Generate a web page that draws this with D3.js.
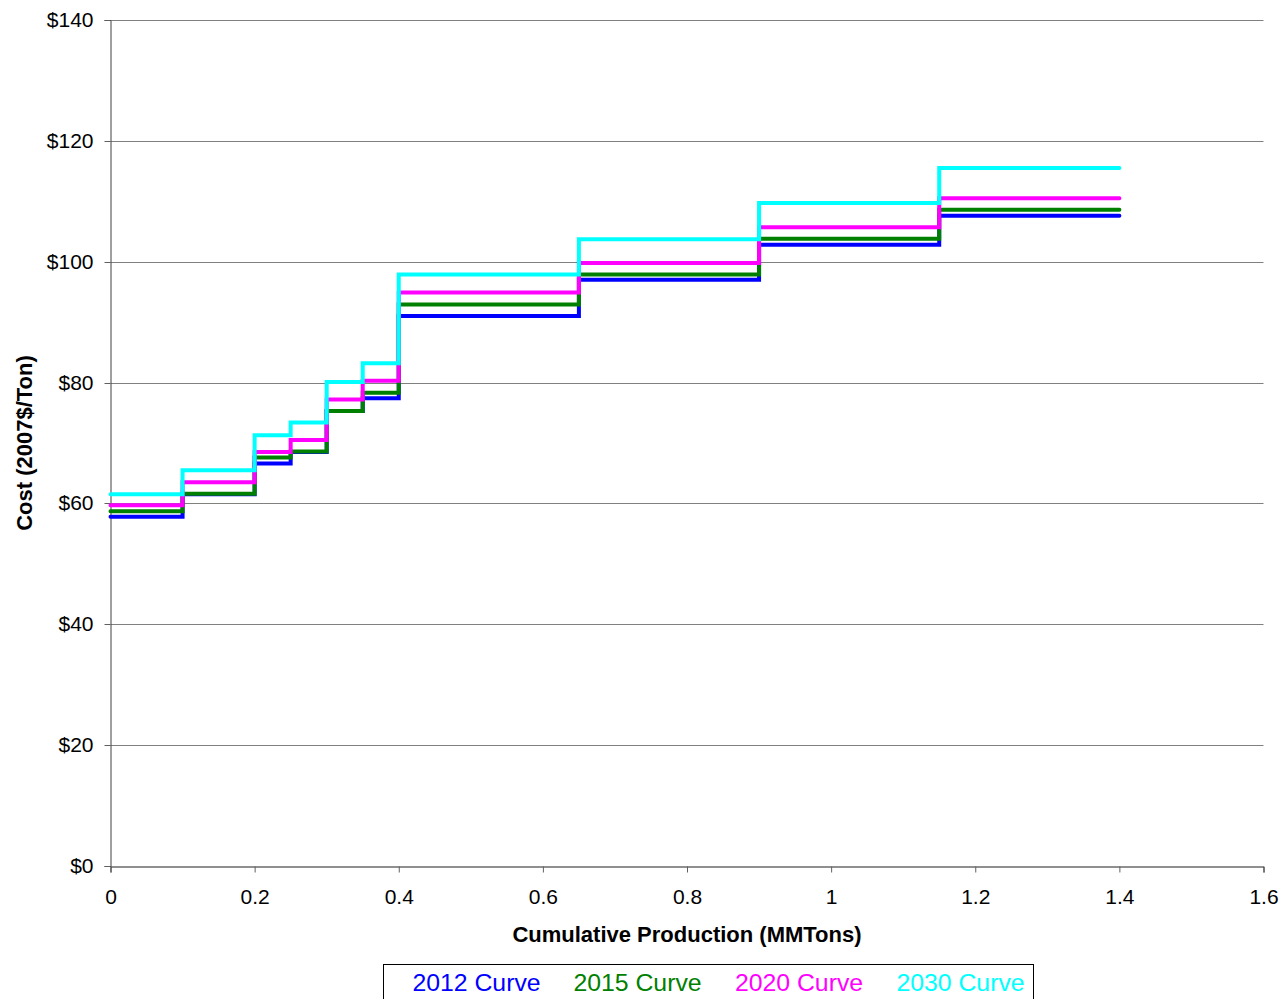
<!DOCTYPE html>
<html>
<head>
<meta charset="utf-8">
<script src="https://cdn.jsdelivr.net/npm/d3@7/dist/d3.min.js"></script>
<style>
  html, body { margin: 0; padding: 0; background: #fff; }
  svg { display: block; font-family: "Liberation Sans", Arial, sans-serif; }
</style>
</head>
<body>
<svg id="chart" width="1283" height="999"></svg>
<script>
// Step boundaries (cumulative production, MMTons)
const breaks = [0, 0.1, 0.2, 0.25, 0.3, 0.35, 0.4, 0.65, 0.9, 1.15, 1.4];
// Cost of each step (2007$/Ton)
const curve2012 = [57.8, 61.5, 66.6, 68.5, 75.3, 77.4, 91.0, 97.0, 102.8, 107.6];
const curve2015 = [58.7, 61.6, 67.6, 68.6, 75.3, 78.3, 92.9, 97.9, 103.8, 108.6];
const curve2020 = [59.7, 63.5, 68.5, 70.5, 77.2, 80.3, 94.9, 99.8, 105.7, 110.5];
const curve2030 = [61.5, 65.5, 71.3, 73.4, 80.1, 83.2, 97.9, 103.7, 109.7, 115.5];
const seriesNames = ["2012 Curve", "2015 Curve", "2020 Curve", "2030 Curve"];
const seriesColors = ["#0000FF", "#008000", "#FF00FF", "#00FFFF"];
const xTicks = [0, 0.2, 0.4, 0.6, 0.8, 1, 1.2, 1.4, 1.6];
const yTicks = [0, 20, 40, 60, 80, 100, 120, 140];

const seriesValues = [curve2012, curve2015, curve2020, curve2030];

(function () {
const svg = d3.select("#chart");
const mLeft = 110.5, mRight = 1263.5, mTop = 20, mBottom = 866;

const x = d3.scaleLinear().domain([0, 1.6]).range([mLeft, mRight]);
const y = d3.scaleLinear().domain([0, 140]).range([mBottom, mTop]);

// gridlines
svg.append("g").selectAll("line").data(yTicks.filter(d => d > 0)).join("line")
  .attr("x1", mLeft).attr("x2", mRight)
  .attr("y1", d => Math.round(y(d)) + 0.5).attr("y2", d => Math.round(y(d)) + 0.5)
  .attr("stroke", "#808080").attr("stroke-width", 1);

// Y axis
const yAxis = d3.axisLeft(y).tickValues(yTicks).tickSize(6).tickPadding(11)
  .tickFormat(d => "$" + d);
const gy = svg.append("g").attr("transform", `translate(${mLeft},0)`).call(yAxis);
gy.select(".domain").attr("stroke", "#404040");
gy.selectAll(".tick line").attr("stroke", "#606060");
gy.selectAll(".tick text").attr("font-size", 21).attr("fill", "#000")
  .attr("font-family", "Liberation Sans, Arial, sans-serif");
gy.selectAll(".tick").attr("transform", d => `translate(0,${Math.round(y(d)) + 0.5})`);

// X axis
const xAxis = d3.axisBottom(x).tickValues(xTicks).tickSize(6).tickPadding(17)
  .tickFormat(d => String(d));
const gx = svg.append("g").attr("transform", `translate(0,${mBottom + 0.5})`).call(xAxis);
gx.select(".domain").attr("stroke", "#202020");
gx.selectAll(".tick line").attr("stroke", "#606060");
gx.selectAll(".tick text").attr("font-size", 21).attr("fill", "#000")
  .attr("font-family", "Liberation Sans, Arial, sans-serif");

// Step lines
const line = d3.line()
  .x(d => x(d[0])).y(d => y(d[1]))
  .curve(d3.curveStepAfter);

seriesValues.forEach((vals, i) => {
  const pts = vals.map((v, k) => [breaks[k], v]);
  pts.push([breaks[breaks.length - 1], vals[vals.length - 1]]);
  svg.append("path")
    .datum(pts)
    .attr("d", line)
    .attr("fill", "none")
    .attr("stroke", seriesColors[i])
    .attr("stroke-width", 4)
    .attr("stroke-linejoin", "miter")
    .attr("stroke-linecap", "round");
});

// Axis titles
svg.append("text")
  .attr("x", 687).attr("y", 942)
  .attr("text-anchor", "middle")
  .attr("font-size", 22).attr("font-weight", "bold")
  .text("Cumulative Production (MMTons)");

svg.append("text")
  .attr("transform", `translate(32,443) rotate(-90)`)
  .attr("text-anchor", "middle")
  .attr("font-size", 22).attr("font-weight", "bold")
  .text("Cost (2007$/Ton)");

// Legend
const lg = svg.append("g");
lg.append("rect")
  .attr("x", 383.5).attr("y", 964.5).attr("width", 650).attr("height", 50)
  .attr("fill", "#fff").attr("stroke", "#000").attr("stroke-width", 1);
const legendX = [476.5, 637.5, 799, 960.5];
seriesNames.forEach((n, i) => {
  lg.append("text")
    .attr("x", legendX[i]).attr("y", 991)
    .attr("text-anchor", "middle")
    .attr("font-size", 24.8)
    .attr("fill", seriesColors[i])
    .text(n);
});
})();
</script>
</body>
</html>
